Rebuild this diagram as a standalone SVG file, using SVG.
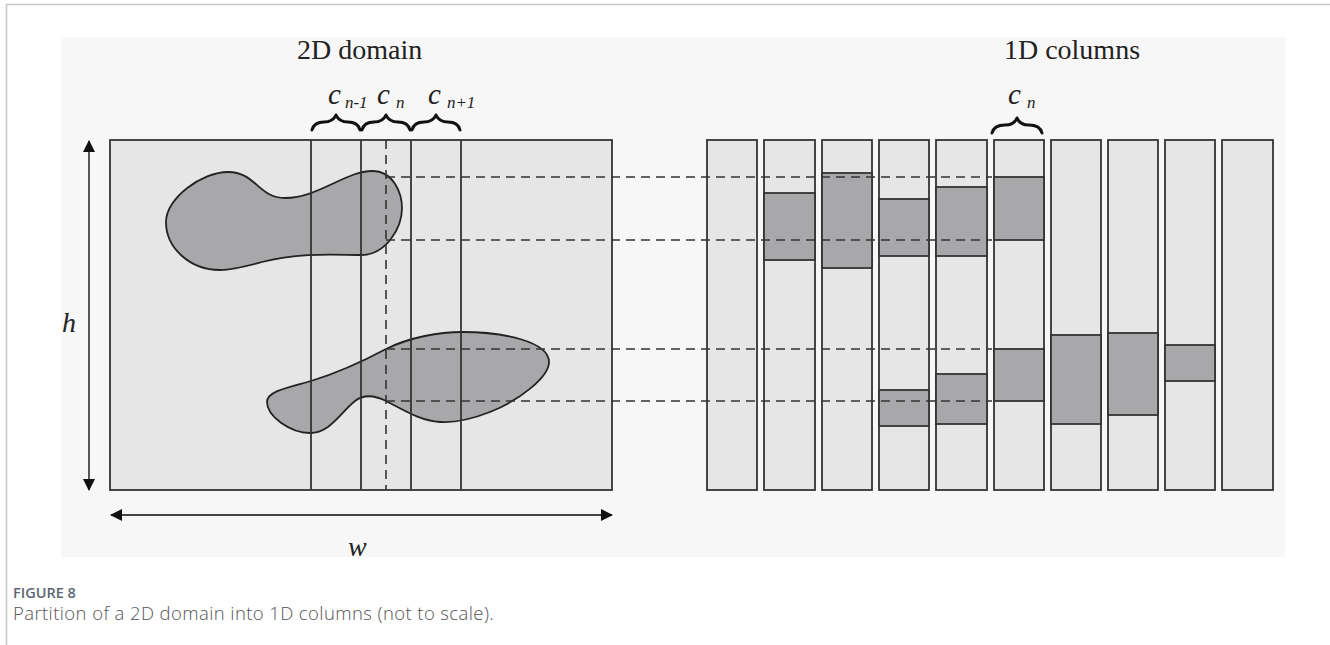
<svg xmlns="http://www.w3.org/2000/svg" width="1330" height="645" viewBox="0 0 1330 645">
  <style>
    .frame { fill: none; stroke: #c8c8c8; stroke-width: 1.6; }
    .panel { fill: #f7f7f7; }
    .domain { fill: #e6e6e6; stroke: #333; stroke-width: 1.8; }
    .col { fill: #e6e6e6; stroke: #333; stroke-width: 1.8; }
    .seg { fill: #a8a8ab; stroke: #333; stroke-width: 1.8; }
    .blob { fill: #a8a8ab; stroke: #222; stroke-width: 1.8; }
    .div { stroke: #333; stroke-width: 1.8; fill: none; }
    .dash { stroke: #333; stroke-width: 1.6; stroke-dasharray: 9 6; fill: none; }
    .arrow { stroke: #444; stroke-width: 1.8; fill: none; }
    .brace { stroke: #111; stroke-width: 3; fill: none; stroke-linecap: round; stroke-linejoin: round; }
    .title { font-family: "Liberation Serif", "Times New Roman", serif; font-size: 28px; fill: #222; }
    .sym { font-family: "Liberation Serif", "Times New Roman", serif; font-style: italic; fill: #222; }
    .cap1 { font-family: "Open Sans", "Noto Sans", sans-serif; font-size: 14.5px; fill: #5b6772; font-weight: 600; }
    .cap2 { font-family: "Open Sans", "Noto Sans", sans-serif; font-size: 18.5px; letter-spacing: 0.4px; fill: #555; font-weight: 300; }
  </style>
  <defs>
    <marker id="head" viewBox="0 0 12 12" refX="11" refY="6" markerWidth="12" markerHeight="12" markerUnits="userSpaceOnUse" orient="auto-start-reverse">
      <path d="M0,0 L12,6 L0,12 Z" fill="#111"/>
    </marker>
  </defs>

  <!-- page frame -->
  <rect x="0" y="0" width="1330" height="645" fill="#ffffff"/>
  <path class="frame" d="M6.5,645 L6.5,4.5 L1330,4.5"/>
  <rect class="panel" x="61" y="37" width="1224" height="520"/>

  <!-- 2D domain -->
  <g id="domain2d">
    <rect class="domain" x="110" y="140" width="502" height="350"/>
    <path class="blob" d="M166,222 C166,198 202,172 228,172 C256,172 258,198 285,198 C318,198 346,171 372,171 C394,171 402,194 402,208 C402,228 386,255 361,255 C338,255 300,252 262,262 C244,267 230,270 220,270 C190,270 166,248 166,222 Z"/>
    <path class="blob" d="M267,402 C267,391 290,387 311,381 C334,374 356,365 386,349 C410,337 440,332 462,332 C505,332 549,342 549,362 C549,377 520,400 490,412 C472,419 455,423 440,422 C420,421 402,409 386,401 C374,395 364,394 355,401 C340,413 330,433 310,433 C290,433 267,416 267,402 Z"/>
    <line class="div" x1="311" y1="140" x2="311" y2="490"/>
    <line class="div" x1="361" y1="140" x2="361" y2="490"/>
    <line class="div" x1="411" y1="140" x2="411" y2="490"/>
    <line class="div" x1="461" y1="140" x2="461" y2="490"/>
    <text class="title" x="297" y="59">2D domain</text>
  </g>

  <!-- column labels over the 2D domain -->
  <g id="labels2d">
    <text class="sym" x="328" y="104" font-size="29">c<tspan dx="4" font-size="17" dy="4">n-1</tspan></text>
    <text class="sym" x="377" y="104" font-size="29">c<tspan dx="6" font-size="17" dy="4">n</tspan></text>
    <text class="sym" x="428" y="104" font-size="29">c<tspan dx="6" font-size="17" dy="4">n+1</tspan></text>
    <path class="brace" d="M312,130 Q314,122 324,122 Q333,122 336,115 Q339,122 348,122 Q358,122 360,130"/>
    <path class="brace" d="M362,130 Q364,122 374,122 Q383,122 386,115 Q389,122 398,122 Q408,122 410,130"/>
    <path class="brace" d="M412,130 Q414,122 424,122 Q433,122 436,115 Q439,122 448,122 Q458,122 460,130"/>
  </g>

  <!-- 1D columns -->
  <g id="columns1d">
    <text class="title" x="1072" y="59" text-anchor="middle">1D columns</text>
    <rect class="col" x="707" y="140" width="50" height="350"/>
    <rect class="col" x="764" y="140" width="51" height="350"/>
    <rect class="seg" x="764" y="193" width="51" height="67"/>
    <rect class="col" x="822" y="140" width="50" height="350"/>
    <rect class="seg" x="822" y="173" width="50" height="95"/>
    <rect class="col" x="879" y="140" width="50" height="350"/>
    <rect class="seg" x="879" y="199" width="50" height="57"/>
    <rect class="seg" x="879" y="390" width="50" height="36"/>
    <rect class="col" x="936" y="140" width="51" height="350"/>
    <rect class="seg" x="936" y="187" width="51" height="69"/>
    <rect class="seg" x="936" y="374" width="51" height="50"/>
    <rect class="col" x="994" y="140" width="50" height="350"/>
    <rect class="seg" x="994" y="177" width="50" height="63"/>
    <rect class="seg" x="994" y="349" width="50" height="52"/>
    <rect class="col" x="1051" y="140" width="50" height="350"/>
    <rect class="seg" x="1051" y="335" width="50" height="89"/>
    <rect class="col" x="1108" y="140" width="50" height="350"/>
    <rect class="seg" x="1108" y="333" width="50" height="82"/>
    <rect class="col" x="1165" y="140" width="50" height="350"/>
    <rect class="seg" x="1165" y="345" width="50" height="36"/>
    <rect class="col" x="1222" y="140" width="51" height="350"/>
    <text class="sym" x="1008" y="104" font-size="29">c<tspan dx="6" font-size="17" dy="4">n</tspan></text>
    <path class="brace" d="M992,133 Q994,125 1005,125 Q1014,125 1017,118 Q1020,125 1029,125 Q1040,125 1042,133"/>
  </g>

  <!-- connectors: dashed projections and dimension arrows -->
  <g id="connectors">
    <line class="dash" x1="386" y1="140" x2="386" y2="490"/>
    <line class="dash" x1="386" y1="177" x2="992" y2="177"/>
    <line class="dash" x1="386" y1="240" x2="992" y2="240"/>
    <line class="dash" x1="386" y1="349" x2="992" y2="349"/>
    <line class="dash" x1="386" y1="401" x2="992" y2="401"/>
    <line class="arrow" x1="89" y1="141" x2="89" y2="490" marker-start="url(#head)" marker-end="url(#head)"/>
    <line class="arrow" x1="111" y1="515" x2="612" y2="515" marker-start="url(#head)" marker-end="url(#head)"/>
    <text class="sym" x="62" y="332" font-size="28">h</text>
    <text class="sym" x="348" y="556" font-size="28">w</text>
  </g>

  <!-- caption -->
  <text class="cap1" x="13" y="598">FIGURE 8</text>
  <text class="cap2" x="13" y="620">Partition of a 2D domain into 1D columns (not to scale).</text>
</svg>
